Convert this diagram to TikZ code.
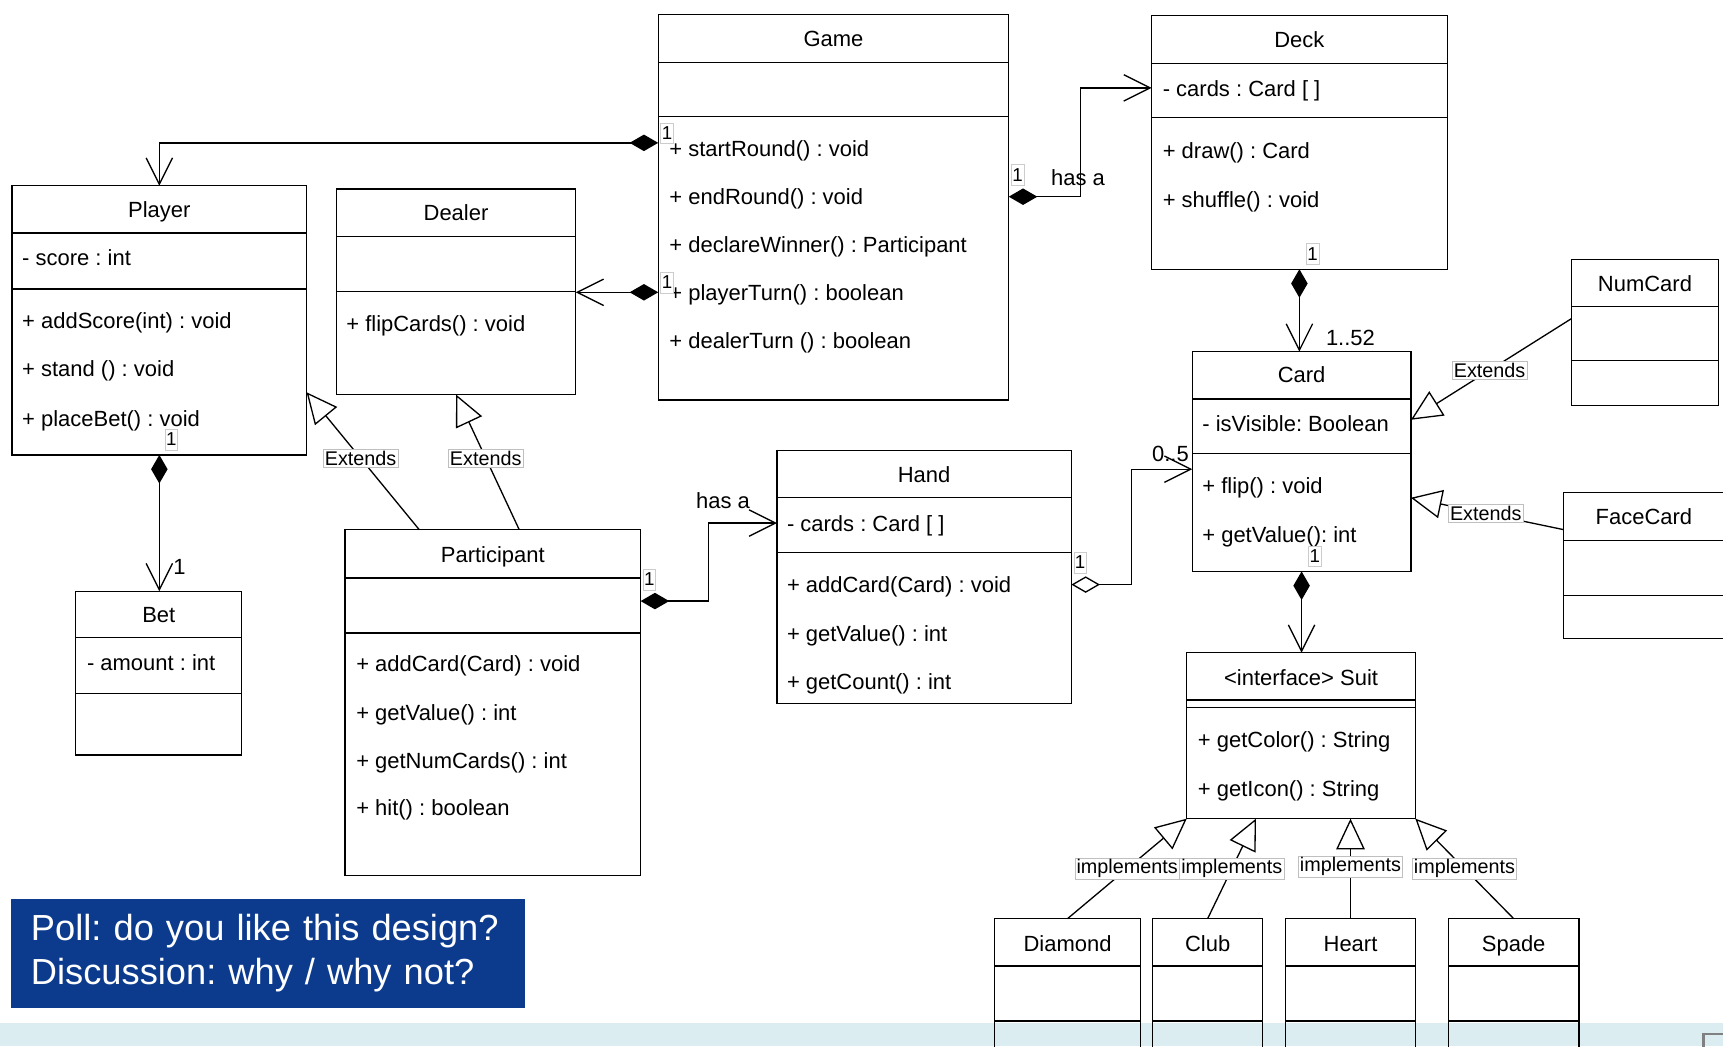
\documentclass[tikz,border=0pt]{standalone}
\usepackage{fontspec}
\setmainfont{Liberation Sans}
\usepackage{tikz}
\usetikzlibrary{arrows.meta,positioning,calc}

\definecolor{pollblue}{HTML}{0C3B8E}
\definecolor{bandblue}{HTML}{DCEDF2}

\tikzset{
  classbox/.style={draw, rectangle, anchor=north west, inner sep=0pt, outer sep=0pt, line width=1.2pt},
  cname/.style={inner sep=0pt, text height=19pt, text depth=4pt, font=\fontsize{20}{24}\selectfont},
  member/.style={anchor=west, inner sep=0pt, text height=19pt, text depth=4pt, font=\fontsize{20}{24}\selectfont},
  rel/.style={line width=1.2pt},
  comp/.style={rel, {Diamond[length=26pt,width=15pt]}-{Straight Barb[length=24pt,width=24pt]}},
  aggr/.style={rel, {Diamond[open,fill=white,length=26pt,width=15pt]}-{Straight Barb[length=24pt,width=24pt]}},
  ext/.style={rel, -{Triangle[open,fill=white,length=28pt,width=26pt]}},
  num/.style={draw=black!20, line width=0.5pt, fill=white, inner sep=1pt, text height=14pt, text depth=3pt, font=\fontsize{17}{19}\selectfont},
  edgelbl/.style={draw=black!25, line width=0.5pt, fill=white, inner sep=1.5pt, font=\fontsize{18}{20}\selectfont},
  mult/.style={inner sep=0pt, font=\fontsize{20}{24}\selectfont},
  pollbox/.style={anchor=north west, fill=pollblue, text=white, minimum height=99pt, inner xsep=18pt,
    text width=432pt, align=left, font=\fontsize{33}{40}\selectfont}
}

\newcommand{\clsline}[2]{\draw[line width=1.2pt] ([yshift=-#2pt]#1.north west) -- ([yshift=-#2pt]#1.north east);}

\begin{document}
\frenchspacing
\begin{tikzpicture}[x=1pt,y=-1pt]
\useasboundingbox (0,0) rectangle (1568,952);

% slide footer
\fill[bandblue] (0,931) rectangle (1568,952);
\draw[black!50, line width=2.5pt] (1550,941) rectangle (1580,975);

% Game
\node[classbox, minimum width=319pt, minimum height=351pt] (game) at (599,13) {};
\clsline{game}{44}\clsline{game}{93}
\node[cname] (gameN) at ([yshift=-22pt]game.north) {Game};
\node[member] (gameM1) at (609,135) {+ startRound() : void};
\node[member] (gameM2) at (609,179) {+ endRound() : void};
\node[member] (gameM3) at (609,222) {+ declareWinner() : Participant};
\node[member] (gameM4) at (609,266) {+ playerTurn() : boolean};
\node[member] (gameM5) at (609,310) {+ dealerTurn () : boolean};

% Deck
\node[classbox, minimum width=269pt, minimum height=231pt] (deck) at (1048,14) {};
\clsline{deck}{44}\clsline{deck}{93}
\node[cname] (deckN) at ([yshift=-22pt]deck.north) {Deck};
\node[member] (deckA1) at (1058,80) {- cards : Card [ ]};
\node[member] (deckM1) at (1058,137) {+ draw() : Card};
\node[member] (deckM2) at (1058,181) {+ shuffle() : void};

% Player
\node[classbox, minimum width=268pt, minimum height=245pt] (player) at (11,169) {};
\clsline{player}{43}\clsline{player}{94}
\node[cname] (playerN) at ([yshift=-21pt]player.north) {Player};
\node[member] (playerA1) at (20,234) {- score : int};
\node[member] (playerM1) at (20,291) {+ addScore(int) : void};
\node[member] (playerM2) at (20,335) {+ stand () : void};
\node[member] (playerM3) at (20,381) {+ placeBet() : void};

% Dealer
\node[classbox, minimum width=218pt, minimum height=187pt] (dealer) at (306,172) {};
\clsline{dealer}{43}\clsline{dealer}{93}
\node[cname] (dealerN) at ([yshift=-21pt]dealer.north) {Dealer};
\node[member] (dealerM1) at (315,294) {+ flipCards() : void};

% Bet
\node[classbox, minimum width=151pt, minimum height=149pt] (bet) at (69,538) {};
\clsline{bet}{42}\clsline{bet}{93}
\node[cname] (betN) at ([yshift=-21pt]bet.north) {Bet};
\node[member] (betA1) at (79,603) {- amount : int};

% Participant
\node[classbox, minimum width=269pt, minimum height=315pt] (participant) at (314,482) {};
\clsline{participant}{44}\clsline{participant}{94}
\node[cname] (participantN) at ([yshift=-22pt]participant.north) {Participant};
\node[member] (participantM1) at (324,604) {+ addCard(Card) : void};
\node[member] (participantM2) at (324,648) {+ getValue() : int};
\node[member] (participantM3) at (324,692) {+ getNumCards() : int};
\node[member] (participantM4) at (324,735) {+ hit() : boolean};

% Hand
\node[classbox, minimum width=268pt, minimum height=230pt] (hand) at (707,410) {};
\clsline{hand}{43}\clsline{hand}{93}
\node[cname] (handN) at ([yshift=-22pt]hand.north) {Hand};
\node[member] (handA1) at (716,476) {- cards : Card [ ]};
\node[member] (handM1) at (716,532) {+ addCard(Card) : void};
\node[member] (handM2) at (716,576) {+ getValue() : int};
\node[member] (handM3) at (716,620) {+ getCount() : int};

% Card
\node[classbox, minimum width=199pt, minimum height=200pt] (card) at (1085,320) {};
\clsline{card}{43}\clsline{card}{93}
\node[cname] (cardN) at ([yshift=-21pt]card.north) {Card};
\node[member] (cardA1) at (1094,385) {- isVisible: Boolean};
\node[member] (cardM1) at (1094,442) {+ flip() : void};
\node[member] (cardM2) at (1094,486) {+ getValue(): int};

% NumCard, FaceCard
\node[classbox, minimum width=134pt, minimum height=133pt] (numcard) at (1430,236) {};
\clsline{numcard}{43}\clsline{numcard}{92}
\node[cname] (numcardN) at ([yshift=-22pt]numcard.north) {NumCard};
\node[classbox, minimum width=150pt, minimum height=133pt] (facecard) at (1423,448) {};
\clsline{facecard}{44}\clsline{facecard}{94}
\node[cname] (facecardN) at ([yshift=-22pt]facecard.north-|1496,0) {FaceCard};

% Suit
\node[classbox, minimum width=208pt, minimum height=151pt] (suit) at (1080,594) {};
\clsline{suit}{43}\clsline{suit}{50}
\node[cname] (suitN) at ([yshift=-22pt]suit.north) {<interface> Suit};
\node[member] (suitM1) at (1090,673) {+ getColor() : String};
\node[member] (suitM2) at (1090,717) {+ getIcon() : String};

% suits
\node[classbox, minimum width=133pt, minimum height=125pt] (diamond) at (905,836) {};
\node[classbox, minimum width=100pt, minimum height=125pt] (club) at (1049,836) {};
\node[classbox, minimum width=118pt, minimum height=125pt] (heart) at (1170,836) {};
\node[classbox, minimum width=119pt, minimum height=125pt] (spade) at (1318,836) {};
\clsline{diamond}{43}\clsline{diamond}{93}
\clsline{club}{43}\clsline{club}{93}
\clsline{heart}{43}\clsline{heart}{93}
\clsline{spade}{43}\clsline{spade}{93}
\node[cname] (diamondN) at ([yshift=-22pt]diamond.north) {Diamond};
\node[cname] (clubN) at ([yshift=-22pt]club.north) {Club};
\node[cname] (heartN) at ([yshift=-22pt]heart.north) {Heart};
\node[cname] (spadeN) at ([yshift=-22pt]spade.north) {Spade};

% composition / aggregation
\coordinate (gameP) at ([yshift=-117pt]game.north west);
\draw[comp] (gameP) -| (player.north);
\node[num, anchor=south west] (gamePn) at ([shift={(2pt,-1pt)}]gameP) {1};

\coordinate (gameD) at ([yshift=-253pt]game.north west);
\draw[comp] (gameD) -- (gameD -| dealer.east);
\node[num, anchor=south west] (gameDn) at ([shift={(2pt,-1pt)}]gameD) {1};

\coordinate (gameK) at ([yshift=-166pt]game.north east);
\coordinate (deckIn) at ([yshift=-66pt]deck.north west);
\draw[comp] (gameK) -- ++(65,0) |- (deckIn);
\node[num, anchor=south west] (gameKn) at ([shift={(2pt,10pt)}]gameK) {1};
\node[mult] (hasA1) at ([shift={(63pt,17pt)}]gameK) {has a};

\draw[comp] (player.south) -- (player.south |- bet.north);
\node[num, anchor=south west] (playerBn) at ([shift={(5pt,4pt)}]player.south) {1};
\node[mult, anchor=south west] (betIn) at ([shift={(13pt,15pt)}]bet.north) {1};

\coordinate (partH) at ([yshift=-65pt]participant.north east);
\coordinate (handIn) at ([yshift=-66pt]hand.north west);
\draw[comp] (partH) -- ++(62,0) |- (handIn);
\node[num, anchor=south west] (partHn) at ([shift={(2pt,10pt)}]partH) {1};
\node[mult] (hasA2) at ([shift={(-49pt,20pt)}]handIn) {has a};

\coordinate (handC) at ([yshift=-122pt]hand.north east);
\coordinate (cardIn) at ([yshift=-107pt]card.north west);
\draw[aggr] (handC) -- ++(55,0) |- (cardIn);
\node[num, anchor=south west] (handCn) at ([shift={(2pt,10pt)}]handC) {1};
\node[mult, anchor=south east] (cardInN) at ([shift={(-3pt,7pt)}]cardIn) {0..5};

\draw[comp] (deck.south) -- (deck.south |- card.north);
\node[num, anchor=south west] (deckCn) at ([shift={(6pt,4pt)}]deck.south) {1};
\node[mult, anchor=south west] (cardTop) at ([shift={(22pt,5pt)}]card.north) {1..52};

\draw[comp] (card.south) -- (card.south |- suit.north);
\node[num, anchor=south west] (cardSn) at ([shift={(6pt,4pt)}]card.south) {1};

% inheritance
\draw[ext] ([xshift=-67pt]participant.north) -- node[edgelbl, pos=0.52] (ext1) {Extends} ([yshift=-188pt]player.north east);
\draw[ext] ([xshift=24pt]participant.north) -- node[edgelbl, pos=0.53] (ext2) {Extends} (dealer.south);
\draw[ext] ([yshift=-54pt]numcard.north west) -- node[edgelbl, pos=0.51] (ext3) {Extends} ([yshift=-62pt]card.north east);
\draw[ext] ([yshift=-34pt]facecard.north west) -- node[edgelbl, pos=0.51] (ext4) {Extends} ([yshift=-133pt]card.north east);

\draw[ext] (diamond.north) -- node[edgelbl, pos=0.5] (impl1) {implements} (suit.south west);
\draw[ext] (club.north) -- node[edgelbl, pos=0.5] (impl2) {implements} ([xshift=63pt]suit.south west);
\draw[ext] (heart.north) -- node[edgelbl, pos=0.52] (impl3) {implements} (heart.north |- suit.south);
\draw[ext] (spade.north) -- node[edgelbl, pos=0.5] (impl4) {implements} (suit.south east);

% poll
\node[pollbox] (poll) at (10,818) {Poll: do you like this design?\\Discussion: why / why not?};
\end{tikzpicture}
\end{document}
